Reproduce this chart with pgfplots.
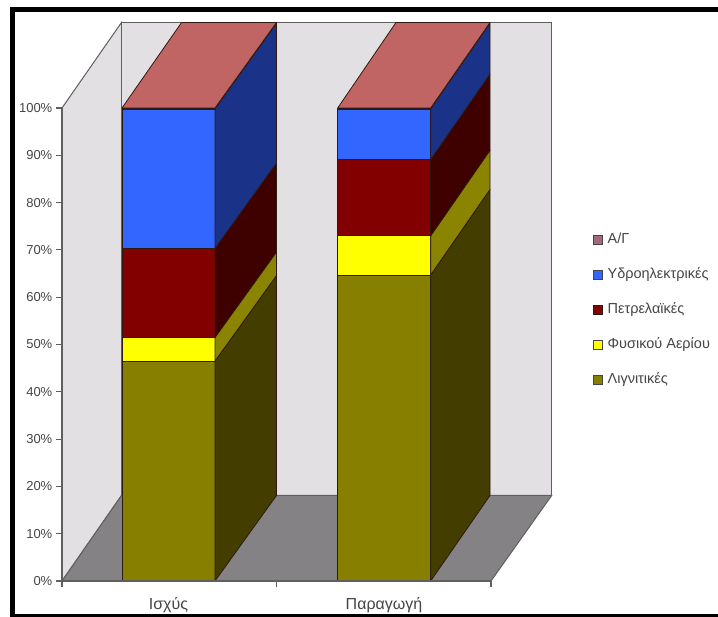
\documentclass[border=0pt]{standalone}
\usepackage{fontspec}
\setmainfont{Liberation Sans}
\usepackage{pgfplots}
\pgfplotsset{compat=1.18}

\definecolor{wall}{HTML}{E3E0E3}
\definecolor{floorgrey}{HTML}{858285}
\definecolor{framegrey}{HTML}{5F5F5F}
\definecolor{labelgrey}{HTML}{454545}
\definecolor{edge}{HTML}{2E1A10}
\definecolor{agTop}{HTML}{C06464}
\definecolor{agFace}{HTML}{A06A78}
\definecolor{hydroFront}{HTML}{3366FF}
\definecolor{hydroSide}{HTML}{1A3388}
\definecolor{oilFront}{HTML}{820000}
\definecolor{oilSide}{HTML}{3F0000}
\definecolor{gasFront}{HTML}{FFFF00}
\definecolor{gasSide}{HTML}{8B8400}
\definecolor{ligFront}{HTML}{877F00}
\definecolor{ligSide}{HTML}{433D00}

% x runs in 1pt units, y in percent; the depth of the box is 59.5 units across and 18.08 percent up
\newcommand{\facepoly}[1]{\addplot[forget plot,fill=#1,draw=edge,line width=0.8pt,line join=round]}

\begin{document}
\begin{tikzpicture}[x=1pt,y=1pt]
\useasboundingbox (0,0) rectangle (718,617);
\fill[white] (0,0) rectangle (718,617);
% black frame, open on the right
\fill[black] (10,610) rectangle (718,605);
\fill[black] (10,605) rectangle (15,0.5);
\fill[black] (10,3) rectangle (718,0);

\begin{axis}[
  at={(62pt,36pt)}, anchor=south west,
  scale only axis, width=429pt, height=473pt,
  xmin=62, xmax=491, ymin=0, ymax=100,
  clip=false,
  axis x line=bottom, axis y line=left,
  axis line style={-,framegrey,line width=1.2pt},
  axis on top=true,
  tick style={framegrey,line width=1.1pt},
  tick align=outside,
  major tick length=6pt,
  ytick={0,10,...,100},
  yticklabels={0\%,10\%,20\%,30\%,40\%,50\%,60\%,70\%,80\%,90\%,100\%},
  xtick={168.5,384},
  xticklabels={Ισχύς,Παραγωγή},
  x tick style={draw=none},
  extra x ticks={62,276.5,491},
  extra x tick labels={},
  extra x tick style={x tick style={draw=framegrey,line width=1.1pt}},
  yticklabel style={font=\fontsize{13}{13}\selectfont,text=labelgrey,inner sep=1pt,xshift=-2.5pt},
  xticklabel style={font=\fontsize{16}{16}\selectfont,text=labelgrey,inner sep=0pt,yshift=-10pt},
  legend style={
    at={(axis cs:593,57.3)}, anchor=west,
    draw=none, fill=none, inner sep=0pt, outer sep=0pt,
    font=\fontsize{14.5}{14.5}\selectfont,
    text=labelgrey,
    row sep=22pt,
    nodes={text height=10.5pt,text depth=2.5pt,inner sep=0pt},
  },
  legend cell align=left,
  legend image code/.code={\draw[#1,line width=0.8pt] (0pt,-4pt) rectangle (9pt,4.5pt); \path (14pt,0pt);},
]
% walls and floor
\addplot[forget plot,fill=wall,draw=framegrey,line width=1pt] coordinates {(62,0) (121.5,18.08) (121.5,118.08) (62,100)} -- cycle;
\addplot[forget plot,fill=wall,draw=framegrey,line width=1pt] coordinates {(121.5,18.08) (551.7,18.08) (551.7,118.08) (121.5,118.08)} -- cycle;
\addplot[forget plot,fill=floorgrey,draw=framegrey,line width=1pt] coordinates {(62,0) (121.5,18.08) (551.7,18.08) (491,0)} -- cycle;

% first column: Ισχύς
\facepoly{ligFront} coordinates {(122,0) (215,0) (215,46.5) (122,46.5)} -- cycle;
\facepoly{ligSide} coordinates {(215,0) (276.5,18.08) (276.5,64.58) (215,46.5)} -- cycle;
\facepoly{gasFront} coordinates {(122,46.5) (215,46.5) (215,51.5) (122,51.5)} -- cycle;
\facepoly{gasSide} coordinates {(215,46.5) (276.5,64.58) (276.5,69.58) (215,51.5)} -- cycle;
\facepoly{oilFront} coordinates {(122,51.5) (215,51.5) (215,70.3) (122,70.3)} -- cycle;
\facepoly{oilSide} coordinates {(215,51.5) (276.5,69.58) (276.5,88.38) (215,70.3)} -- cycle;
\facepoly{hydroFront} coordinates {(122,70.3) (215,70.3) (215,99.8) (122,99.8)} -- cycle;
\facepoly{hydroSide} coordinates {(215,70.3) (276.5,88.38) (276.5,117.88) (215,99.8)} -- cycle;
\facepoly{agFace} coordinates {(122,99.8) (215,99.8) (215,100) (122,100)} -- cycle;
\facepoly{agTop} coordinates {(122,100) (215,100) (276.5,118.08) (181.6,118.08)} -- cycle;

% second column: Παραγωγή
\facepoly{ligFront} coordinates {(337.7,0) (430.7,0) (430.7,64.7) (337.7,64.7)} -- cycle;
\facepoly{ligSide} coordinates {(430.7,0) (490,18.08) (490,82.78) (430.7,64.7)} -- cycle;
\facepoly{gasFront} coordinates {(337.7,64.7) (430.7,64.7) (430.7,73) (337.7,73)} -- cycle;
\facepoly{gasSide} coordinates {(430.7,64.7) (490,82.78) (490,91.08) (430.7,73)} -- cycle;
\facepoly{oilFront} coordinates {(337.7,73) (430.7,73) (430.7,89.1) (337.7,89.1)} -- cycle;
\facepoly{oilSide} coordinates {(430.7,73) (490,91.08) (490,107.18) (430.7,89.1)} -- cycle;
\facepoly{hydroFront} coordinates {(337.7,89.1) (430.7,89.1) (430.7,99.8) (337.7,99.8)} -- cycle;
\facepoly{hydroSide} coordinates {(430.7,89.1) (490,107.18) (490,117.88) (430.7,99.8)} -- cycle;
\facepoly{agFace} coordinates {(337.7,99.8) (430.7,99.8) (430.7,100) (337.7,100)} -- cycle;
\facepoly{agTop} coordinates {(337.7,100) (430.7,100) (490,118.08) (396,118.08)} -- cycle;

% legend, top entry first
\addlegendimage{fill=agFace,draw=labelgrey}
\addlegendentry{Α/Γ}
\addlegendimage{fill=hydroFront,draw=labelgrey}
\addlegendentry{Υδροηλεκτρικές}
\addlegendimage{fill=oilFront,draw=edge}
\addlegendentry{Πετρελαϊκές}
\addlegendimage{fill=gasFront,draw=labelgrey}
\addlegendentry{Φυσικού Αερίου}
\addlegendimage{fill=ligFront,draw=labelgrey}
\addlegendentry{Λιγνιτικές}
\end{axis}
\end{tikzpicture}
\end{document}
